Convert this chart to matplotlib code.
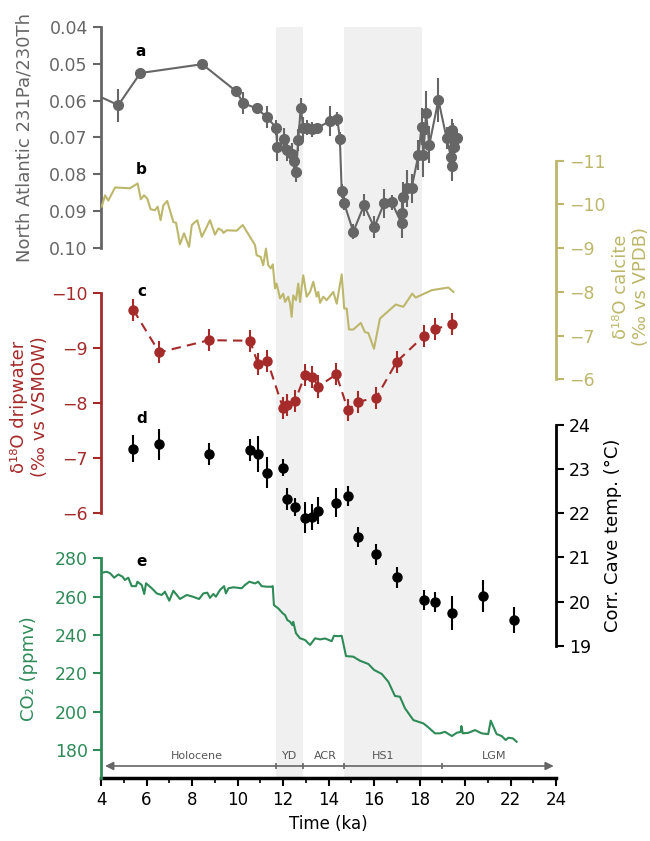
import numpy as np
import matplotlib
matplotlib.use('Agg')
import matplotlib.pyplot as plt

# ---- Data ----
# (a) North Atlantic 231Pa/230Th
pa_t = [3.7, 4.76, 5.73, 8.45, 9.93, 10.26, 10.84, 11.28, 11.69, 11.75, 12.06, 12.19, 12.38,
        12.50, 12.57, 12.67, 12.78, 12.89, 13.04, 13.26, 13.48, 14.07, 14.39, 14.50, 14.58,
        14.68, 15.09, 15.56, 16.01, 16.44, 16.78, 17.21, 17.21, 17.29, 17.43, 17.65, 17.95,
        18.09, 18.17, 18.29, 18.43, 18.83, 19.19, 19.38, 19.41, 19.41, 19.49, 19.52, 19.63]
pa_v = [0.0582, 0.0612, 0.0525, 0.0501, 0.0574, 0.0607, 0.0621, 0.0644, 0.0673, 0.0725, 0.0705,
        0.0734, 0.0746, 0.0764, 0.0795, 0.0707, 0.0619, 0.0675, 0.0673, 0.0678, 0.0675, 0.0655,
        0.0650, 0.0704, 0.0845, 0.0877, 0.0956, 0.0884, 0.0944, 0.0879, 0.0876, 0.0933, 0.0906,
        0.0861, 0.0838, 0.0838, 0.0748, 0.0671, 0.0748, 0.0633, 0.0720, 0.0598, 0.0702, 0.0752,
        0.0777, 0.0680, 0.0702, 0.0725, 0.0702]
pa_e = [0.002, 0.0045, 0.001, 0.001, 0.0015, 0.003, 0.0015, 0.003, 0.002, 0.004, 0.003, 0.003,
        0.003, 0.003, 0.0025, 0.003, 0.0025, 0.003, 0.002, 0.002, 0.001, 0.004, 0.002, 0.002,
        0.002, 0.002, 0.002, 0.003, 0.003, 0.004, 0.002, 0.004, 0.003, 0.004, 0.005, 0.004,
        0.004, 0.005, 0.006, 0.006, 0.005, 0.006, 0.003, 0.004, 0.004, 0.003, 0.004, 0.003, 0.002]

# (b) d18O calcite (permil VPDB)
calc_t = [4.03, 4.18, 4.32, 4.62, 5.27, 5.61, 5.75, 5.89, 6.04, 6.18, 6.37, 6.49, 6.62, 6.74,
          6.91, 7.18, 7.30, 7.47, 7.65, 7.87, 7.99, 8.23, 8.43, 8.65, 8.79, 9.01, 9.16, 9.31,
          9.38, 9.53, 9.96, 10.23, 10.77, 10.84, 11.02, 11.13, 11.25, 11.35, 11.46, 11.55,
          11.65, 11.72, 11.87, 12.01, 12.09, 12.23, 12.31, 12.38, 12.45, 12.57, 12.67, 12.75,
          12.82, 12.89, 13.04, 13.19, 13.33, 13.48, 13.55, 13.63, 13.77, 13.92, 14.21, 14.36,
          14.58, 14.69, 14.80, 14.90, 15.09, 15.42, 15.60, 15.75, 16.00, 16.26, 16.95, 17.29,
          17.68, 17.83, 18.54, 19.27, 19.49]
calc_v = [-9.95, -10.21, -10.09, -10.39, -10.37, -10.48, -10.12, -10.21, -10.13, -9.89, -9.87,
          -9.95, -9.64, -9.98, -10.08, -9.60, -9.58, -9.09, -9.34, -9.03, -9.53, -9.64, -9.26,
          -9.49, -9.64, -9.31, -9.45, -9.41, -9.35, -9.41, -9.40, -9.53, -9.07, -8.84, -8.80,
          -8.61, -8.99, -8.61, -8.54, -8.63, -8.08, -8.19, -7.85, -7.96, -7.77, -7.89, -7.73,
          -7.43, -7.92, -7.81, -8.19, -7.77, -8.11, -8.38, -7.89, -8.00, -8.23, -7.89, -8.00,
          -7.75, -7.89, -7.81, -8.00, -7.73, -8.40, -7.62, -7.62, -7.14, -7.14, -7.29, -7.08,
          -7.06, -6.70, -7.39, -7.71, -7.66, -7.96, -7.87, -8.04, -8.10, -8.00]

# (c, d) dripwater d18O and cave temperature, same samples
samp_t = [5.42, 6.56, 8.75, 10.55, 10.91, 11.31, 12.0, 12.19, 12.53, 12.97, 13.29, 13.55,
          14.34, 14.86, 15.28, 16.1, 17.0, 18.2, 18.66, 19.44, 20.8, 22.17]
drip_v = [-9.69, -8.92, -9.14, -9.13, -8.70, -8.77, -7.91, -7.96, -8.04, -8.51, -8.48, -8.30,
          -8.52, -7.87, -8.02, -8.10, -8.75, -9.22, -9.34, -9.43]
drip_e = [0.2, 0.2, 0.2, 0.2, 0.2, 0.2, 0.2, 0.2, 0.2, 0.2, 0.2, 0.2,
          0.2, 0.2, 0.2, 0.2, 0.2, 0.2, 0.2, 0.2]
temp_v = [23.46, 23.56, 23.34, 23.43, 23.34, 22.92, 23.03, 22.32, 22.14, 21.90, 21.91, 22.06,
          22.24, 22.39, 21.46, 21.07, 20.55, 20.04, 20.00, 19.75, 20.13, 19.59]
temp_e = [0.3, 0.35, 0.25, 0.25, 0.4, 0.35, 0.2, 0.25, 0.2, 0.35, 0.3, 0.3,
          0.33, 0.23, 0.23, 0.23, 0.23, 0.23, 0.23, 0.38, 0.37, 0.29]

# (e) CO2 (ppmv)
co2_t = [4.03, 4.25, 4.40, 4.58, 4.76, 4.95, 5.05, 5.20, 5.35, 5.54, 5.60, 5.79, 5.90, 5.98,
         6.23, 6.45, 6.67, 6.81, 7.00, 7.18, 7.33, 7.47, 7.77, 8.03, 8.31, 8.50, 8.67, 8.79,
         8.94, 9.05, 9.23, 9.41, 9.49, 9.60, 9.82, 10.18, 10.33, 10.52, 10.77, 10.91, 11.06,
         11.28, 11.50, 11.55, 11.60, 11.79, 11.99, 12.09, 12.19, 12.31, 12.41, 12.45, 12.57,
         12.75, 12.97, 13.19, 13.41, 13.63, 13.85, 14.14, 14.24, 14.43, 14.58, 14.77, 15.09,
         15.38, 15.75, 16.00, 16.34, 16.63, 16.92, 17.14, 17.36, 17.73, 18.17, 18.39, 18.68,
         18.90, 19.12, 19.42, 19.64, 19.81, 19.84, 19.90, 20.15, 20.44, 20.73, 21.02, 21.13,
         21.39, 21.61, 21.79, 21.90, 22.10, 22.27]
co2_v = [272.5, 273.0, 272.2, 269.9, 271.6, 270.4, 268.7, 269.9, 265.5, 265.5, 267.8, 266.1,
         261.4, 267.0, 264.4, 261.7, 260.9, 262.6, 257.9, 263.1, 260.9, 258.8, 260.9, 260.0,
         258.8, 261.7, 262.1, 259.4, 261.4, 260.0, 263.5, 265.5, 261.7, 264.4, 264.9, 264.4,
         266.1, 267.8, 266.9, 267.8, 265.5, 265.2, 265.2, 265.5, 255.6, 253.9, 251.3, 250.4,
         247.8, 246.9, 245.2, 246.9, 240.9, 238.3, 237.4, 234.8, 238.3, 237.7, 238.2, 236.8,
         239.6, 239.4, 239.6, 229.0, 228.7, 226.6, 224.9, 221.8, 219.7, 215.6, 208.2, 207.8,
         201.8, 195.6, 193.9, 191.8, 188.7, 188.7, 189.5, 187.3, 189.0, 189.5, 192.5, 188.7,
         189.0, 190.4, 188.7, 188.3, 195.3, 188.3, 187.3, 185.2, 186.4, 186.1, 184.3]

# climate periods
shade_spans = [(11.7, 12.9), (14.7, 18.1)]
period_bounds = [11.7, 12.9, 14.7, 19.0]
period_names = ['Holocene', 'YD', 'ACR', 'HS1', 'LGM']
period_mid = [8.2, 12.3, 13.85, 16.4, 21.3]

c_pa, c_calc, c_drip, c_temp, c_co2 = '#666666', '#bdb76b', '#a52a2a', 'black', '#2e8b57'

fig = plt.figure(figsize=(6.5, 8.41), dpi=100)
rect = [0.1554, 0.0749, 0.7, 0.893]

ax0 = fig.add_axes(rect)
ax0.set_xlim(4, 24)
ax0.set_ylim(0, 1)
for s in ['left', 'right', 'top']:
    ax0.spines[s].set_visible(False)
ax0.spines['bottom'].set_linewidth(2.5)
ax0.yaxis.set_visible(False)
ax0.set_xticks(np.arange(4, 25, 2))
ax0.set_xticks(np.arange(5, 24, 2), minor=True)
ax0.tick_params(axis='x', which='major', length=6, width=1.5, labelsize=12, direction='out')
ax0.tick_params(axis='x', which='minor', length=3.5, width=1.2)
ax0.set_xlabel('Time (ka)', fontsize=12)
for a, b in shade_spans:
    ax0.axvspan(a, b, color='#f0f0f0', lw=0, zorder=0)
ax0.annotate('', xy=(4.18, 0.016), xytext=(23.9, 0.016),
             arrowprops=dict(arrowstyle='<|-|>', color='#666666', lw=1.2,
                             mutation_scale=12, shrinkA=0, shrinkB=0))
ax0.plot(period_bounds, [0.016] * len(period_bounds), '|', ms=5, mew=1.2, color='#666666')
for name, m in zip(period_names, period_mid):
    ax0.text(m, 0.0297, name, ha='center', va='center', fontsize=8, color='#555555')
for lab, yy, xx in [('a', 0.968, 5.76), ('b', 0.810, 5.76), ('c', 0.648, 5.8),
                    ('d', 0.479, 5.8), ('e', 0.288, 5.8)]:
    ax0.text(xx, yy, lab, fontsize=11, fontweight='bold', ha='center', va='center')


def panel(side, color, ylim, bounds, ticks, label, lx, ly):
    ax = fig.add_axes(rect)
    ax.patch.set_visible(False)
    for s in ax.spines.values():
        s.set_visible(False)
    ax.spines[side].set_visible(True)
    ax.spines[side].set_color(color)
    ax.spines[side].set_linewidth(2)
    ax.spines[side].set_bounds(*bounds)
    ax.xaxis.set_visible(False)
    ax.yaxis.set_ticks_position(side)
    ax.set_xlim(4, 24)
    ax.set_ylim(*ylim)
    ax.set_yticks(ticks)
    ax.tick_params(axis='y', colors=color, labelsize=12.5, length=6, width=1.5)
    ax.text(lx, ly, label, transform=ax.transAxes, rotation=90, ha='center', va='center',
            fontsize=13, color=color, multialignment='center')
    return ax


ax_a = panel('left', c_pa, (0.2439, 0.04), (0.04, 0.10), np.arange(0.04, 0.1001, 0.01),
             'North Atlantic 231Pa/230Th', -0.169, 0.853)
ax_a.yaxis.set_major_formatter(matplotlib.ticker.FormatStrFormatter('%.2f'))
ax_a.errorbar(pa_t, pa_v, yerr=pa_e, fmt='-o', color=c_pa, ms=7, lw=1.5, elinewidth=1.5)

ax_b = panel('right', c_calc, (3.12, -14.06), (-11, -6), np.arange(-11, -5),
             'δ¹⁸O calcite\n(‰ vs VPDB)', 1.165, 0.654)
ax_b.plot(calc_t, calc_v, color=c_calc, lw=1.5)

ax_c = panel('left', c_drip, (-1.20, -14.82), (-10, -6), np.arange(-10, -5),
             'δ¹⁸O dripwater\n(‰ vs VSMOW)', -0.157, 0.494)
ax_c.errorbar(samp_t[:len(drip_v)], drip_v, yerr=drip_e, fmt='o', color=c_drip, ms=6.5,
              elinewidth=1.5)
ax_c.plot(samp_t[:len(drip_v)], drip_v, '--', color=c_drip, lw=1.5, dashes=(4.5, 3))

ax_d = panel('right', c_temp, (16.015, 32.99), (19, 24), np.arange(19, 25),
             'Corr. Cave temp. (°C)', 1.126, 0.3236)
ax_d.errorbar(samp_t, temp_v, yerr=temp_e, fmt='o', color=c_temp, ms=6.5, elinewidth=1.5)

ax_e = panel('left', c_co2, (165.4, 557.2), (165.4, 280), np.arange(180, 281, 20),
             'CO₂ (ppmv)', -0.158, 0.146)
ax_e.plot(co2_t, co2_v, color=c_co2, lw=1.5)

fig.savefig('out.png', dpi=100)
